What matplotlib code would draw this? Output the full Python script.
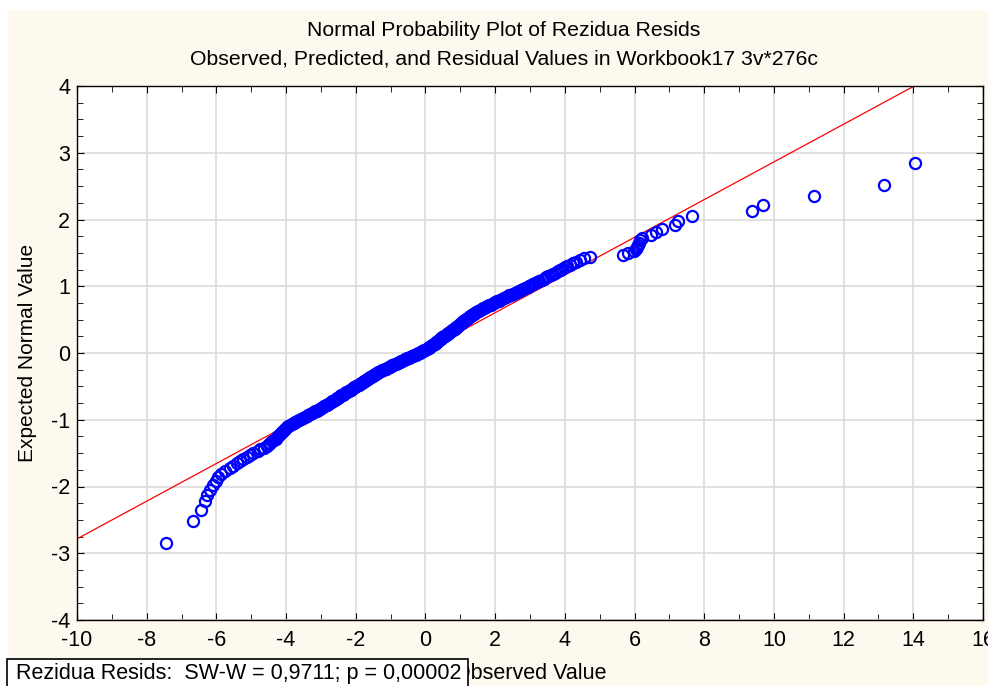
import numpy as np
import matplotlib.pyplot as plt
from matplotlib.patches import Rectangle
from statistics import NormalDist

plt.rcParams['font.family'] = ['Liberation Sans', 'DejaVu Sans']
plt.rcParams['axes.unicode_minus'] = False

# residuals, sorted (276 cases)
resids = [
    -7.45, -6.67, -6.44, -6.33, -6.26, -6.18, -6.10, -6.02, -5.95, -5.86,
    -5.75, -5.62, -5.52, -5.42, -5.33, -5.24, -5.12, -5.04, -4.96, -4.82,
    -4.76, -4.62, -4.56, -4.50, -4.46, -4.40, -4.35, -4.30, -4.26, -4.22,
    -4.19, -4.15, -4.12, -4.08, -4.05, -4.02, -3.98, -3.94, -3.89, -3.84,
    -3.78, -3.74, -3.69, -3.63, -3.58, -3.52, -3.47, -3.41, -3.36, -3.30,
    -3.26, -3.21, -3.17, -3.12, -3.08, -3.04, -2.99, -2.95, -2.90, -2.86,
    -2.82, -2.79, -2.75, -2.72, -2.68, -2.65, -2.61, -2.57, -2.54, -2.50,
    -2.47, -2.44, -2.41, -2.38, -2.34, -2.31, -2.28, -2.24, -2.20, -2.17,
    -2.14, -2.11, -2.08, -2.05, -2.01, -1.98, -1.95, -1.92, -1.88, -1.85,
    -1.82, -1.79, -1.76, -1.73, -1.70, -1.68, -1.65, -1.62, -1.60, -1.57,
    -1.54, -1.51, -1.48, -1.45, -1.42, -1.39, -1.36, -1.32, -1.29, -1.25,
    -1.21, -1.17, -1.13, -1.10, -1.06, -1.03, -0.99, -0.95, -0.92, -0.88,
    -0.84, -0.80, -0.77, -0.73, -0.70, -0.66, -0.63, -0.59, -0.56, -0.52,
    -0.48, -0.44, -0.40, -0.36, -0.32, -0.28, -0.24, -0.20, -0.16, -0.12,
    -0.09, -0.06, -0.03, 0.00, 0.03, 0.06, 0.09, 0.11, 0.14, 0.16,
    0.19, 0.21, 0.24, 0.27, 0.29, 0.31, 0.33, 0.35, 0.37, 0.40,
    0.42, 0.44, 0.46, 0.48, 0.51, 0.53, 0.56, 0.58, 0.61, 0.64,
    0.66, 0.69, 0.71, 0.74, 0.76, 0.79, 0.81, 0.84, 0.86, 0.88,
    0.90, 0.93, 0.95, 0.97, 1.00, 1.02, 1.04, 1.07, 1.09, 1.12,
    1.14, 1.17, 1.19, 1.22, 1.24, 1.27, 1.30, 1.33, 1.36, 1.40,
    1.43, 1.46, 1.50, 1.53, 1.57, 1.61, 1.65, 1.69, 1.74, 1.78,
    1.83, 1.87, 1.91, 1.96, 2.00, 2.05, 2.10, 2.15, 2.21, 2.26,
    2.31, 2.36, 2.41, 2.46, 2.52, 2.57, 2.63, 2.69, 2.75, 2.81,
    2.87, 2.93, 2.98, 3.04, 3.10, 3.15, 3.21, 3.27, 3.34, 3.40,
    3.47, 3.53, 3.60, 3.66, 3.73, 3.80, 3.86, 3.93, 4.00, 4.07,
    4.15, 4.24, 4.33, 4.43, 4.56, 4.72, 5.67, 5.81, 5.98, 6.03,
    6.06, 6.09, 6.12, 6.15, 6.20, 6.48, 6.63, 6.78, 7.16, 7.24,
    7.65, 9.37, 9.68, 11.15, 13.15, 14.05,
]

title1 = 'Normal Probability Plot of Rezidua Resids'
title2 = 'Observed, Predicted, and Residual Values in Workbook17 3v*276c'
xlabel = 'Observed Value'
ylabel = 'Expected Normal Value'
stats_text = 'Rezidua Resids:  SW-W = 0,9711; p = 0,00002'

x = np.sort(np.array(resids))
n = len(x)
nd = NormalDist()
# Blom rankits
expected = np.array([nd.inv_cdf((i - 0.375) / (n + 0.25)) for i in range(1, n + 1)])
slope, icpt = np.polyfit(x, expected, 1)

W, H = 988, 686
fig = plt.figure(figsize=(W / 100, H / 100), dpi=100, facecolor='white')
fig.patches.append(Rectangle((8 / W, 0), 1, 676 / H, transform=fig.transFigure,
                             facecolor='#fef9ef', edgecolor='none', zorder=-10))

ax = fig.add_axes([77 / W, 66 / H, 906 / W, 534 / H])
ax.set_facecolor('white')
ax.grid(True, color='#dcdcdc', linewidth=1.2, zorder=0)
ax.set_axisbelow(True)

ax.axline((0, icpt), slope=slope, color='red', linewidth=0.9, zorder=2)
ax.plot(x, expected, 'o', markerfacecolor='none', markeredgecolor='#0000ff',
        markersize=8, markeredgewidth=1.6, zorder=3)

ax.set_xlim(-10, 16)
ax.set_ylim(-4, 4)
ax.set_xticks(np.arange(-10, 17, 2))
ax.set_xticks(np.arange(-10, 17, 1), minor=True)
ax.set_yticks(np.arange(-4, 5, 1))
ax.set_yticks(np.arange(-4, 4.01, 0.25), minor=True)
ax.tick_params(which='both', direction='in', top=True, right=True, labelsize=15.5, color='black')
ax.tick_params(which='major', length=5, pad=5)
ax.tick_params(axis='x', which='major', pad=7)
ax.tick_params(which='minor', length=4)
for s in ax.spines.values():
    s.set_linewidth(1.0)

ax.set_xlabel(xlabel, fontsize=15.5, labelpad=9)
ax.set_ylabel(ylabel, fontsize=15, labelpad=10)

fig.text(504 / W, 1 - 31 / H, title1, fontsize=15.3, ha='center', va='center')
fig.text(504 / W, 1 - 59 / H, title2, fontsize=15.3, ha='center', va='center')

# stats box sitting over the start of the x label
fig.patches.append(Rectangle((7 / W, -0.02), 461 / W, 27 / H + 0.02, transform=fig.transFigure,
                             facecolor='white', edgecolor='black', linewidth=1.2, zorder=5))
fig.text(16 / W, 1 - 673 / H, stats_text, fontsize=15.5, ha='left', va='center', zorder=6)

fig.savefig('out.png', dpi=100, facecolor=fig.get_facecolor())
